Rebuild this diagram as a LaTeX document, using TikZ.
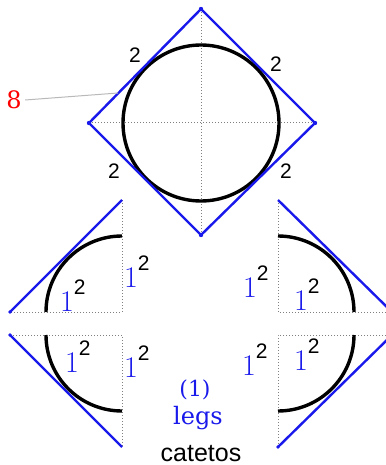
\documentclass[tikz,border=0pt]{standalone}
\usepackage{fontspec}
\newfontfamily\catfont{Liberation Sans}
\newfontfamily\legfont{DejaVu Serif}
\definecolor{legblue}{RGB}{25,25,235}
\newcommand{\onesq}{{\color{legblue}\fontsize{30}{30}\selectfont 1}\raisebox{17pt}{\catfont\fontsize{21}{21}\selectfont 2}}

\begin{document}
\begin{tikzpicture}[x=1pt,y=-1pt,
  hyp/.style={legblue,line width=2.4pt},
  guide/.style={gray,dotted,line width=1pt},
  rim/.style={black,line width=3.4pt},
  two/.style={font=\catfont\fontsize{21}{21}\selectfont},
  sq/.style={inner sep=0pt,anchor=base west}]
\useasboundingbox (0,0) rectangle (385,465);
% big square with the circle
\draw[guide] (201,9) -- (201,235);
\draw[guide] (89,123) -- (315,123);
\draw[rim] (201,123) circle [radius=78];
\draw[hyp] (201,9) -- (315,123) -- (201,235) -- (89,123) -- cycle;
\foreach \p in {(201,9),(315,123),(201,235),(89,123)}
  \fill[legblue] \p circle [radius=2.2];
\node[two] (twoa) at (135,55) {2};
\node[two] (twob) at (276,64) {2};
\node[two] (twoc) at (114,171) {2};
\node[two] (twod) at (286,171) {2};
\node[red,font=\legfont\fontsize{24}{24}\selectfont] (eight) at (14,100) {8};
\coordinate (side) at (118,93);
\draw[gray!55,line width=1pt] (eight.east) -- (side);
% the four corners
\draw[guide] (122,200) -- (122,312) -- (10,312);
\draw[rim] (122,236) arc [start angle=270,end angle=180,radius=76];
\draw[hyp] (10,312) -- (122,200);
\draw[guide] (278,200) -- (278,312) -- (392,312);
\draw[rim] (278,236) arc [start angle=270,end angle=360,radius=76];
\draw[hyp] (392,312) -- (278,200);
\draw[guide] (10,335) -- (122,335) -- (122,447);
\draw[rim] (46,335) arc [start angle=180,end angle=90,radius=76];
\draw[hyp] (10,335) -- (122,447);
\draw[guide] (392,335) -- (278,335) -- (278,447);
\draw[rim] (354,335) arc [start angle=0,end angle=90,radius=76];
\draw[hyp] (392,335) -- (278,447);
\foreach \p in {(10,312),(10,335),(278,447)}
  \fill[legblue] \p circle [radius=1.8];
\node[sq] (ulin) at (60,311) {\onesq};
\node[sq] (ulout) at (124,287) {\onesq};
\node[sq] (urout) at (243,297) {\onesq};
\node[sq] (urin) at (294,310) {\onesq};
\node[sq] (llin) at (65,372) {\onesq};
\node[sq] (llout) at (124,377) {\onesq};
\node[sq] (lrout) at (242,375) {\onesq};
\node[sq] (lrin) at (294,370) {\onesq};
% legend
\node[legblue,anchor=base,font=\legfont\fontsize{22}{22}\selectfont] (one) at (195,396) {(1)};
\node[legblue,anchor=base,font=\legfont\fontsize{24}{24}\selectfont] (legs) at (198,424) {legs};
\node[anchor=base,inner sep=0pt,font=\catfont\fontsize{25}{25}\selectfont] (catetos) at (201,461) {catetos};
\end{tikzpicture}
\end{document}
